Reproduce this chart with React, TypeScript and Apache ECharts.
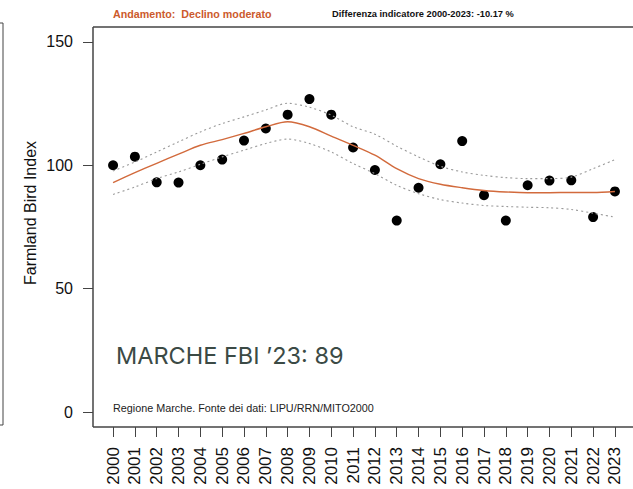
import React, { useEffect, useRef } from "react";
import * as echarts from "echarts";

const years = [2000, 2001, 2002, 2003, 2004, 2005, 2006, 2007, 2008, 2009, 2010, 2011, 2012, 2013, 2014, 2015, 2016, 2017, 2018, 2019, 2020, 2021, 2022, 2023];
const observed = [100, 103.5, 93.1, 93.0, 100.0, 102.3, 110.0, 114.9, 120.5, 126.8, 120.5, 107.2, 98.1, 77.6, 90.9, 100.4, 109.8, 87.9, 77.6, 91.9, 93.8, 93.9, 79.0, 89.4];
const trend = [93.0, 97.0, 100.8, 104.5, 108.1, 110.4, 112.9, 115.6, 117.6, 115.6, 111.8, 108.1, 104.1, 98.6, 94.6, 92.3, 90.9, 89.8, 89.2, 88.9, 88.9, 89.0, 89.0, 89.4];
const upper = [97.7, 101.3, 105.4, 109.5, 113.5, 116.9, 119.6, 122.4, 125.1, 123.5, 120.3, 115.6, 112.6, 107.7, 103.4, 99.6, 97.3, 95.9, 95.0, 94.6, 94.6, 95.2, 98.6, 102.3];
const lower = [88.2, 91.2, 94.6, 97.3, 100.4, 103.4, 106.1, 108.8, 110.6, 108.8, 105.4, 100.7, 96.6, 91.9, 88.5, 86.1, 84.7, 83.7, 83.3, 83.0, 82.8, 82.1, 80.6, 79.0];
const yTicks = [0, 50, 100, 150];

const pair = (arr: number[]) => years.map((y, i) => [y, arr[i]]);

export default function App() {
  const ref = useRef<HTMLDivElement>(null);
  useEffect(() => {
    if (!ref.current) return;
    const chart = echarts.init(ref.current, null, { renderer: "svg" });
    const ff = "'Liberation Sans', Arial, sans-serif";
    chart.setOption({
      animation: false,
      grid: {
        left: 93, top: 27, width: 542, height: 400,
        show: false,
      },
      xAxis: {
        type: "value", min: 1999.08, max: 2023.92,
        axisLine: { show: false, onZero: false },
        splitLine: { show: false },
        axisTick: { show: true, length: 10, lineStyle: { color: "#444" }, customValues: years },
        axisLabel: { fontFamily: ff, fontSize: 17, color: "#111", rotate: 90, margin: 20, customValues: years, formatter: (v: number) => String(v) },
      },
      yAxis: {
        type: "value", min: -6, max: 156,
        axisLine: { show: false, onZero: false },
        splitLine: { show: false },
        axisTick: { show: true, length: 10, lineStyle: { color: "#444" }, customValues: yTicks },
        axisLabel: { fontFamily: ff, fontSize: 16, color: "#111", margin: 20, customValues: yTicks },
      },
      series: [
        { type: "line", data: pair(upper), smooth: 0.3, symbol: "none", lineStyle: { color: "#9a9a9a", width: 1.1, type: [2, 3] } },
        { type: "line", data: pair(lower), smooth: 0.3, symbol: "none", lineStyle: { color: "#9a9a9a", width: 1.1, type: [2, 3] } },
        { type: "line", data: pair(trend), smooth: 0.3, symbol: "none", lineStyle: { color: "#d26a3c", width: 1.4 } },
        { type: "scatter", data: pair(observed), symbol: "circle", symbolSize: 10, itemStyle: { color: "#000", opacity: 1 } },
      ],
      graphic: [
        { type: "line", shape: { x1: 93, y1: 27, x2: 640, y2: 27 }, style: { stroke: "#444", lineWidth: 1.5 }, z: 10 },
        { type: "line", shape: { x1: 93, y1: 27, x2: 93, y2: 427 }, style: { stroke: "#444", lineWidth: 1.5 }, z: 10 },
        { type: "line", shape: { x1: 93, y1: 427, x2: 640, y2: 427 }, style: { stroke: "#444", lineWidth: 1.5 }, z: 10 },
        { type: "polyline", shape: { points: [[0, 23], [3, 23], [3, 425], [0, 425]] }, style: { stroke: "#444", fill: "none", lineWidth: 1 } },
        { type: "text", x: 113, y: 14, style: { text: "Andamento:  Declino moderato", fill: "#cc5a2c", font: "bold 10.7px " + ff, textVerticalAlign: "middle" } },
        { type: "text", x: 332, y: 14, style: { text: "Differenza indicatore 2000-2023: -10.17 %", fill: "#111", font: "bold 9.3px " + ff, textVerticalAlign: "middle" } },
        { type: "text", x: 30, y: 213, rotation: Math.PI / 2, style: { text: "Farmland Bird Index", fill: "#111", font: "16px " + ff, textAlign: "center", textVerticalAlign: "middle" } },
        { type: "text", x: 116, y: 355, style: { text: "MARCHE FBI \u201923: 89", fill: "#3b4a45", font: "23.5px Inter, sans-serif", textVerticalAlign: "middle" } },
        { type: "text", x: 113, y: 408, style: { text: "Regione Marche. Fonte dei dati: LIPU/RRN/MITO2000", fill: "#222", font: "10.8px " + ff, textVerticalAlign: "middle" } },
      ],
    });
    return () => chart.dispose();
  }, []);
  return (
    <div style={{ position: "absolute", left: 0, top: 0, width: 633, height: 489, overflow: "hidden", background: "#fff" }}>
      <div ref={ref} style={{ width: 640, height: 489 }} />
    </div>
  );
}
